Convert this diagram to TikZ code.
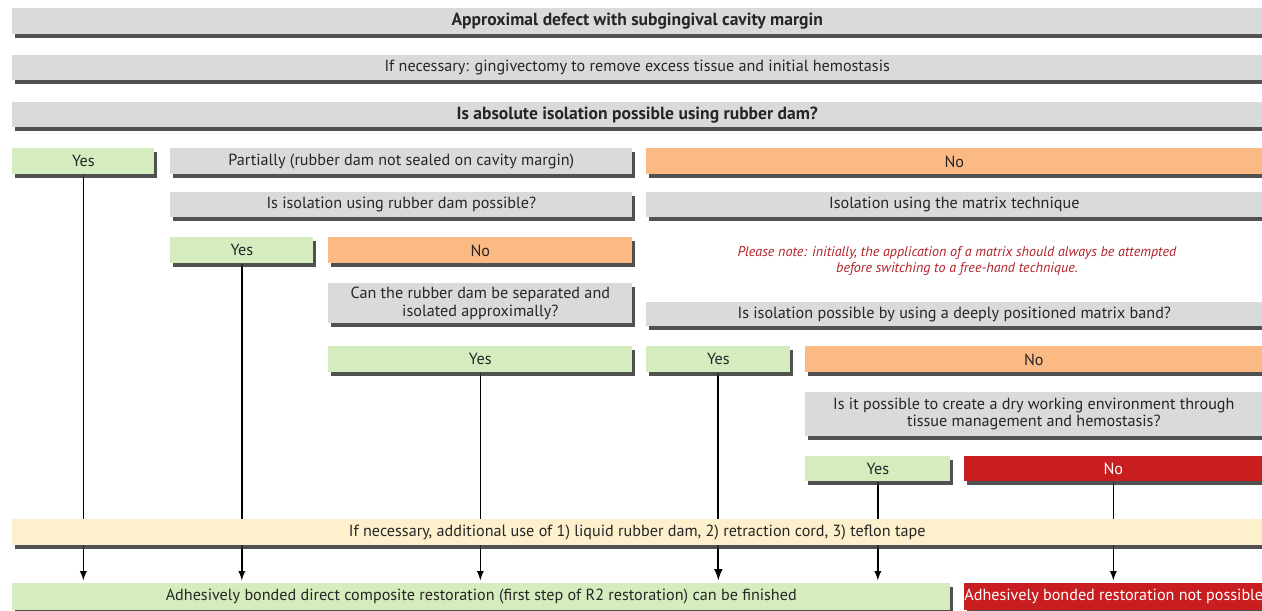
\documentclass[tikz,border=0pt]{standalone}
\usepackage{fontspec}
\setmainfont{PT Sans}
\usepackage{tikz}
\usetikzlibrary{arrows,shadows,backgrounds}
\definecolor{boxgrey}{RGB}{217,218,219}
\definecolor{boxgreen}{RGB}{213,237,190}
\definecolor{boxorange}{RGB}{251,185,131}
\definecolor{boxred}{RGB}{200,30,32}
\definecolor{boxyellow}{RGB}{253,240,205}
\definecolor{notered}{RGB}{178,34,40}
\tikzset{box/.style={anchor=north west, inner sep=0pt, align=center, text=black!85,
  font=\fontsize{9.2}{9.8}\selectfont,
  drop shadow={shadow xshift=1.6pt, shadow yshift=-2.2pt, fill=black!80, opacity=0.85}},
  grey/.style={box, fill=boxgrey},
  green/.style={box, fill=boxgreen},
  orange/.style={box, fill=boxorange},
  redbox/.style={box, fill=boxred, text=white},
  yellow/.style={box, fill=boxyellow},
  headline/.style={font=\fontsize{10}{11}\selectfont\bfseries},
  flow/.style={-latex, line width=0.8pt, shorten >=1.5pt}}

\begin{document}
\begin{tikzpicture}[x=0.02cm, y=-0.02cm]
      \useasboundingbox (0,0) rectangle (1262,610);

      \node [grey, headline, minimum width=25cm, minimum height=0.52cm] (defect) at (12,8) {Approximal defect with subgingival cavity margin};
      \node [grey, minimum width=25cm, minimum height=0.5cm] (gingiv) at (12,55) {If necessary: gingivectomy to remove excess tissue and initial hemostasis};
      \node [grey, headline, minimum width=25cm, minimum height=0.5cm] (absiso) at (12,102) {Is absolute isolation possible using rubber dam?};

      \node [green, minimum width=2.84cm, minimum height=0.52cm] (yesA) at (12,148) {Yes};
      \node [grey, minimum width=9.24cm, minimum height=0.52cm] (partial) at (170,148) {Partially (rubber dam not sealed on cavity margin)};
      \node [orange, minimum width=12.32cm, minimum height=0.52cm] (noA) at (646,148) {No};

      \node [grey, minimum width=9.24cm, minimum height=0.5cm] (rdposs) at (170,192) {Is isolation using rubber dam possible?};
      \node [grey, minimum width=12.32cm, minimum height=0.5cm] (matrix) at (646,192) {Isolation using the matrix technique};

      \node [green, minimum width=2.86cm, minimum height=0.52cm] (yesB) at (170,237) {Yes};
      \node [orange, minimum width=6.08cm, minimum height=0.52cm] (noB) at (328,237) {No};
      \node [align=center, text=notered, font=\fontsize{8}{8.6}\selectfont\itshape] (note) at (957,261) {Please note: initially, the application of a matrix should always be attempted\\before switching to a free-hand technique.};

      \node [grey, minimum width=6.08cm, minimum height=0.8cm] (separ) at (328,283) {Can the rubber dam be separated and\\isolated approximally?};
      \node [grey, minimum width=12.32cm, minimum height=0.48cm] (band) at (646,302) {Is isolation possible by using a deeply positioned matrix band?};

      \node [green, minimum width=6.08cm, minimum height=0.52cm] (yesC) at (328,346) {Yes};
      \node [green, minimum width=2.88cm, minimum height=0.52cm] (yesD) at (646,346) {Yes};
      \node [orange, minimum width=9.14cm, minimum height=0.52cm] (noD) at (805,346) {No};

      \node [grey, minimum width=9.14cm, minimum height=0.88cm] (dry) at (805,392) {Is it possible to create a dry working environment through\\tissue management and hemostasis?};

      \node [green, minimum width=2.9cm, minimum height=0.5cm] (yesE) at (805,456) {Yes};
      \node [redbox, minimum width=5.96cm, minimum height=0.5cm] (noE) at (964,456) {No};

      \node [yellow, minimum width=25cm, minimum height=0.52cm] (extra) at (12,519) {If necessary, additional use of 1) liquid rubber dam, 2) retraction cord, 3) teflon tape};

      \node [green, minimum width=18.76cm, minimum height=0.54cm] (done) at (12,583) {Adhesively bonded direct composite restoration (first step of R2 restoration) can be finished};
      \node [redbox, minimum width=5.96cm, minimum height=0.54cm] (fail) at (964,583) {Adhesively bonded restoration not possible};

      % connectors run behind the yellow bar
      \begin{scope}[on background layer]
      \draw [flow] (yesA.south) -- (yesA.south |- done.north);
      \draw [flow] (yesB.south) -- (yesB.south |- done.north);
      \draw [flow] (yesC.south) -- (yesC.south |- done.north);
      \draw [flow, line width=1.2pt] (yesD.south) -- (yesD.south |- done.north);
      \draw [flow] (yesE.south) -- (yesE.south |- done.north);
      \draw [flow] (noE.south) -- (noE.south |- fail.north);
      \end{scope}
    \end{tikzpicture}
\end{document}
